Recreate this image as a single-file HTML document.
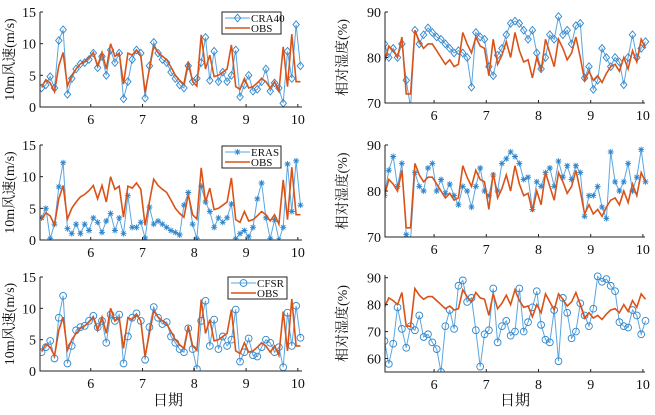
<!DOCTYPE html>
<html><head><meta charset="utf-8"><style>
body{margin:0;background:#fff}
svg text{font-family:"Liberation Serif","Noto Serif CJK SC",serif;fill:#111}
</style></head><body>
<svg id="c" width="655" height="410" xmlns="http://www.w3.org/2000/svg"></svg>
<script>
const obsWind=[3.2,4.3,3.8,2.4,6.5,8.6,3.3,5.0,6.0,6.8,7.2,7.8,8.6,6.5,8.6,6.0,10.0,8.0,8.5,3.6,8.5,8.2,9.0,8.0,2.3,6.0,9.6,8.6,8.0,7.5,6.3,5.0,4.2,3.6,7.2,4.0,3.3,11.4,6.0,8.2,4.8,5.0,5.5,6.0,9.8,3.2,2.8,4.5,3.0,3.2,3.8,4.5,4.0,3.0,4.0,2.5,9.5,3.2,11.5,4.0,4.0];
const cra40Wind=[3,3.5,4.8,3.0,10.5,12.2,2.0,4.5,6.0,6.8,7.0,7.5,8.5,6.2,8.0,5.0,9.0,7.0,8.5,1.3,4.0,7.5,9.0,8.5,1.4,6.5,10.2,8.5,7.5,7.0,5.5,4.5,3.5,3.0,6.5,4.0,4.5,7.0,11.0,4.2,8.8,4.0,5.5,4.0,5.0,9.0,1.6,3.5,5.0,2.5,2.8,4.0,6.0,2.5,3.8,3.0,0.6,8.8,4.5,13,6.5];
const erasWind=[3.5,5.0,0.2,2.5,8.4,12.2,1.8,1.0,2.5,1.0,2.5,1.5,3.5,2.8,1.2,3.0,4.2,1.5,3.5,1.0,7.0,2.0,2.0,2.8,0.3,5.2,2.5,3.0,2.5,2.0,1.5,1.2,0.8,5.5,7.5,2.5,0.2,8.5,6.0,4.5,2.0,3.5,2.8,3.5,5.7,0.2,1.0,1.5,0.5,2.0,6.5,9.0,3.5,0.2,3.2,0.0,2.0,12.0,4.5,12.5,5.5];
const cfsrWind=[3.0,3.8,4.8,2.0,8.5,12.0,1.2,4.0,6.5,7.0,7.2,8.0,8.8,7.0,8.0,4.5,9.0,8.0,9.0,1.2,5.5,8.5,9.2,8.0,1.8,7.0,10.2,8.5,7.5,7.8,5.5,4.5,3.5,3.0,6.8,3.5,0.3,8.0,11.2,4.0,8.2,3.5,5.5,4.0,5.0,9.8,1.5,3.0,5.2,2.5,2.3,3.8,5.0,4.5,3.0,3.8,0.6,9.3,4.0,10.4,5.3];
const obsRH=[79,82.5,81.5,80,84.5,72,72,86,83.5,82,83,83,81.5,80,78.5,79.5,78,78.5,85.5,83,81,84.5,82.5,82,76,84,78.5,80.5,83.5,80,85.5,81.5,79,79.5,75.5,80,77,84,81,78,84,82,79.5,81,84.5,80,75,77,75,76,74.5,76.5,78,78.5,77,80,77.5,81.5,79,84,82];
const cra40RH=[83,80,82,80,83,75,69,86,83,85,86.5,85.5,84.5,84,83,82,81,81.5,81,80,73.5,85.5,84.5,84,78,76,80.5,82,85,87.5,88,87.5,86,84,86,81,77.5,80,85,84,89,85,86,83,87,87.5,75.5,78,73,75,82,80,78,80,79,74,80,85,80,82,83.5];
const erasRH=[79,84.5,87.5,81,86,70.5,69.5,84,81,80,85,86,80,82.5,79.5,81.5,79,77,81,80,76.5,81,85,80,79,83.5,80,86,87,88.5,87.5,86,82.5,83,76,82,81,84,85,81,86.5,83,85.5,82.5,85.5,84,74.5,79,79,81,76.5,74,88.5,82,80,82,86,80,83,89,82];
const cfsrRH=[66.5,58,65.5,79,71,64,72,70.5,76,68,69,66,63.5,55,72,78,71,87,89,81,82.5,70.5,57,69,70.5,86,66,72,74,68.5,70,86,70,73.5,79,85,72.5,67,66,78,59,82.5,77,67.5,70,80.5,76,72,78.5,90.5,88.5,89.5,87,85,73.5,72,71.5,78,76,69,74];
const xTicks=[6,7,8,9,10];
const windTicks=[0,5,10,15];
const rhTicks=[70,80,90];
const rhTicks3=[60,70,80,90];
const t0=5.05, dt=1/12;

const svg=document.getElementById('c');
const NS='http://www.w3.org/2000/svg';
function el(tag,attrs,parent){const e=document.createElementNS(NS,tag);for(const k in attrs)e.setAttribute(k,attrs[k]);(parent||svg).appendChild(e);return e;}
const BLUE='#2f86cc', ORANGE='#d95319';

function marker(g,type,x,y){
  let m;
  if(type==='diamond'){m=el('path',{d:`M${x} ${y-3.8}L${x+3.2} ${y}L${x} ${y+3.8}L${x-3.2} ${y}Z`,fill:'none',stroke:BLUE,'stroke-width':0.9},g);}
  else if(type==='circle'){m=el('circle',{cx:x,cy:y,r:3.4,fill:'none',stroke:BLUE,'stroke-width':0.9},g);}
  else {m=el('path',{d:`M${x-3} ${y}H${x+3}M${x} ${y-3}V${y+3}M${x-2.2} ${y-2.2}L${x+2.2} ${y+2.2}M${x-2.2} ${y+2.2}L${x+2.2} ${y-2.2}`,stroke:BLUE,'stroke-width':0.9},g);}
  
  
}

function panel(o){
  const g=el('g',{});
  
  
  const xs=t=>o.x0+(t-o.d0)/(o.d1-o.d0)*(o.x1-o.x0);
  const ys=v=>o.y1-(v-o.v0)/(o.v1-o.v0)*(o.y1-o.y0);
  // reanalysis series
  let d='';o.model.forEach((v,i)=>{d+=(i?'L':'M')+xs(t0+i*dt).toFixed(1)+' '+ys(v).toFixed(1);});
  const ml=el('path',{d,fill:'none',stroke:'#5aa5e0','stroke-width':1},g);
  
  
  o.model.forEach((v,i)=>marker(g,o.mk,xs(t0+i*dt),ys(v)));
  d='';o.obs.forEach((v,i)=>{d+=(i?'L':'M')+xs(t0+i*dt).toFixed(1)+' '+ys(v).toFixed(1);});
  const ol=el('path',{d,fill:'none',stroke:ORANGE,'stroke-width':1.6},g);
  
  
  // axes
  el('rect',{x:o.x0-12,y:o.y1+0.5,width:o.x1-o.x0+30,height:30,fill:'#fff'},g);
  el('rect',{x:o.x0-40,y:o.y0-10,width:40,height:o.y1-o.y0+20,fill:'#fff'},g);
  const ax=el('path',{d:`M${o.x0} ${o.y0}V${o.y1}H${o.x1}`,fill:'none',stroke:'#222','stroke-width':1},g);
  
  
  xTicks.forEach(t=>{const x=xs(t);el('line',{x1:x,x2:x,y1:o.y1,y2:o.y1-3,stroke:'#222'},g);
    const tx=el('text',{x:x,y:o.y1+17,'text-anchor':'middle','font-size':14},g);tx.textContent=t;
    
    });
  o.yt.forEach(v=>{const y=ys(v);el('line',{x1:o.x0,x2:o.x0+3,y1:y,y2:y,stroke:'#222'},g);
    const tx=el('text',{x:o.x0-4,y:y+5,'text-anchor':'end','font-size':14},g);tx.textContent=v;
    
    });
  const yt=el('text',{x:0,y:0,'text-anchor':'middle','font-size':14,transform:`translate(${o.tx},${(o.y0+o.y1)/2}) rotate(-90)`},g);
  yt.textContent=o.title;
  
  
  if(o.leg){
    const L=o.leg, lg=el('g',{},g);
    
    
    el('rect',{x:L.x,y:L.y,width:59,height:22,fill:'#fff',stroke:'#222','stroke-width':1},lg);
    el('line',{x1:L.x+3,x2:L.x+28,y1:L.y+6,y2:L.y+6,stroke:'#5aa5e0','stroke-width':1},lg);
    marker(lg,o.mk,L.x+15.5,L.y+6);
    el('line',{x1:L.x+3,x2:L.x+28,y1:L.y+16,y2:L.y+16,stroke:ORANGE,'stroke-width':1.6},lg);
    const a=el('text',{x:L.x+29,y:L.y+10,'font-size':11},lg);a.textContent=L.label;
    
    
    const b=el('text',{x:L.x+29,y:L.y+20,'font-size':11},lg);b.textContent='OBS';
    
    
  }
}
const L={x0:40,x1:302,d0:5.02,d1:10.08,v0:0,v1:15,yt:windTicks,tx:14,title:'10m风速(m/s)'};
const R={x0:385,x1:645,d0:5.06,d1:10.04,tx:347,title:'相对湿度(%)'};
panel(Object.assign({},L,{name:'panel-cra40-wind',y0:12,y1:107,model:cra40Wind,obs:obsWind,mk:'diamond',leg:{x:222,y:12,label:'CRA40'}}));
panel(Object.assign({},L,{name:'panel-eras-wind',y0:145,y1:240,model:erasWind,obs:obsWind,mk:'star',leg:{x:222,y:146,label:'ERAS'}}));
panel(Object.assign({},L,{name:'panel-cfsr-wind',y0:277,y1:371,model:cfsrWind,obs:obsWind,mk:'circle',leg:{x:228,y:277,label:'CFSR'}}));
panel(Object.assign({},R,{name:'panel-cra40-rh',y0:12,y1:103,v0:70,v1:90,yt:rhTicks,model:cra40RH,obs:obsRH,mk:'diamond'}));
panel(Object.assign({},R,{name:'panel-eras-rh',y0:145,y1:237,v0:70,v1:90,yt:rhTicks,model:erasRH,obs:obsRH,mk:'star'}));
panel(Object.assign({},R,{name:'panel-cfsr-rh',y0:275,y1:372,v0:55,v1:91,yt:rhTicks3,model:cfsrRH,obs:obsRH,mk:'circle'}));
[[168,'x-axis-title-left'],[515,'x-axis-title-right']].forEach(([x,n])=>{
  const t=el('text',{x:x,y:405,'text-anchor':'middle','font-size':15});t.textContent='日期';
  
  
});
</script>
</body></html>
